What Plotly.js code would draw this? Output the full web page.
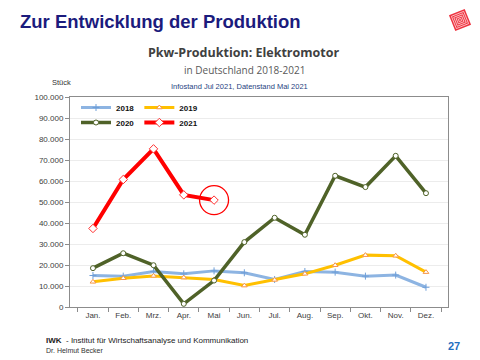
<!DOCTYPE html>
<html>
<head>
<meta charset="utf-8">
<script src="https://cdn.plot.ly/plotly-3.0.1.min.js"></script>
<style>html,body{margin:0;padding:0;background:#fff;}#chart{width:480px;height:360px;}</style>
</head>
<body>
<div id="chart"></div>
<script>
var months = ["Jan.","Feb.","Mrz.","Apr.","Mai","Jun.","Jul.","Aug.","Sep.","Okt.","Nov.","Dez."];
var y2018 = [15000,14700,16900,15800,17200,16300,13100,16900,16600,14700,15200,9400];
var y2019 = [12000,13700,14800,14000,13100,10200,12900,15800,19900,24700,24400,16600];
var y2020 = [18500,25600,19900,1500,12600,30900,42500,34400,62500,57100,72000,54200];
var y2021 = [37400,60700,75300,53400,50900];
var highlightIndex = 4;

var L = 70, T = 97, W = 378, H = 210;
function px(x){return (x - L)/W;}
function py(y){return (T + H - y)/H;}

var FONT = "Liberation Sans, Arial, sans-serif";

var traces = [
  {name:"2018", x:months, y:y2018, type:"scatter", mode:"lines+markers", legend:"legend",
   line:{color:"#8db4e2", width:3}, marker:{symbol:"cross-thin", size:5, line:{color:"#6f9fd8", width:1}}},
  {name:"2019", x:months, y:y2019, type:"scatter", mode:"lines+markers", legend:"legend",
   line:{color:"#ffc000", width:3}, marker:{symbol:"triangle-up", size:5, color:"#ffffff", line:{color:"#f79646", width:1}}},
  {name:"2020", x:months, y:y2020, type:"scatter", mode:"lines+markers", legend:"legend2",
   line:{color:"#4f6228", width:3.5}, marker:{symbol:"circle", size:5, color:"#ffffff", line:{color:"#4f6228", width:1}}},
  {name:"2021", x:months.slice(0, y2021.length), y:y2021, type:"scatter", mode:"lines+markers", legend:"legend2",
   line:{color:"#ff0000", width:4}, marker:{symbol:"diamond", size:6.5, color:"#ffffff", line:{color:"#ff3030", width:1}}},
  {name:"highlight", x:[months[highlightIndex]], y:[y2021[highlightIndex]], type:"scatter", mode:"markers",
   showlegend:false, hoverinfo:"skip", cliponaxis:false,
   marker:{symbol:"circle-open", size:29, color:"#ff0000", line:{color:"#ff0000", width:1.3}}}
];

// logo shapes (decoration)
function rotSquare(cx, cy, h, ang){
  var a = ang*Math.PI/180, pts = [[-h,-h],[h,-h],[h,h],[-h,h]];
  var s = pts.map(function(p, i){
    var X = cx + p[0]*Math.cos(a) - p[1]*Math.sin(a);
    var Y = cy + p[0]*Math.sin(a) + p[1]*Math.cos(a);
    return (i===0?"M ":"L ") + px(X).toFixed(5) + " " + py(Y).toFixed(5);
  });
  return s.join(" ") + " Z";
}
var shapes = [
  {type:"path", xref:"paper", yref:"paper", path:rotSquare(460,20,8.5,-22), fillcolor:"#ee3340", line:{width:0}}
];
[6.6,4.8,3,1.3].forEach(function(h){
  shapes.push({type:"path", xref:"paper", yref:"paper", path:rotSquare(460,20,h,-22), fillcolor:"rgba(0,0,0,0)", line:{color:"#ffe0e0", width:0.8}});
});

var annotations = [
  {text:"<b>Zur Entwicklung der Produktion</b>", x:px(18), y:py(22), xref:"paper", yref:"paper", xanchor:"left", yanchor:"middle", showarrow:false,
   font:{family:FONT, size:18.5, color:"#1b1b7d"}},
  {text:"<b>Pkw-Produktion: Elektromotor</b>", x:px(243), y:py(52), xref:"paper", yref:"paper", xanchor:"center", yanchor:"middle", showarrow:false,
   font:{family:"Open Sans, sans-serif", size:12.5, color:"#404040"}},
  {text:"in Deutschland 2018-2021", x:px(244), y:py(70), xref:"paper", yref:"paper", xanchor:"center", yanchor:"middle", showarrow:false,
   font:{family:"Open Sans, sans-serif", size:10, color:"#595959"}},
  {text:"Infostand Jul 2021, Datenstand Mai 2021", x:px(239), y:py(87), xref:"paper", yref:"paper", xanchor:"center", yanchor:"middle", showarrow:false,
   font:{family:FONT, size:7.5, color:"#1f3f7f"}},
  {text:"Stück", x:px(50), y:py(82), xref:"paper", yref:"paper", xanchor:"left", yanchor:"middle", showarrow:false,
   font:{family:FONT, size:7.5, color:"#333333"}},
  {text:"<b>IWK</b>  - Institut für Wirtschaftsanalyse und Kommunikation", x:px(44), y:py(340), xref:"paper", yref:"paper", xanchor:"left", yanchor:"middle", showarrow:false,
   font:{family:FONT, size:8, color:"#222222"}},
  {text:"Dr. Helmut Becker", x:px(44), y:py(350), xref:"paper", yref:"paper", xanchor:"left", yanchor:"middle", showarrow:false,
   font:{family:FONT, size:7, color:"#333333"}},
  {text:"<b>27</b>", x:px(454), y:py(346), xref:"paper", yref:"paper", xanchor:"center", yanchor:"middle", showarrow:false,
   font:{family:FONT, size:11, color:"#1f6fbf"}}
];

var layout = {
  width:480, height:360,
  margin:{l:L, r:480-L-W, t:T, b:360-T-H, pad:0},
  paper_bgcolor:"#ffffff", plot_bgcolor:"#ffffff",
  separators:",.",
  font:{family:FONT, size:8, color:"#404040"},
  showlegend:true,
  xaxis:{type:"category", showgrid:false, showline:true, linecolor:"#8c8c8c", linewidth:1, mirror:true,
         ticks:"outside", tickson:"boundaries", ticklen:4, tickcolor:"#8c8c8c",
         tickfont:{family:FONT, size:8, color:"#404040"}, fixedrange:true},
  yaxis:{range:[0,100000], dtick:10000, tickformat:",d", showgrid:true, gridcolor:"#ececec", gridwidth:1,
         showline:true, linecolor:"#8c8c8c", linewidth:1, mirror:true, ticks:"outside", ticklen:4, tickcolor:"#8c8c8c",
         zeroline:false, tickfont:{family:FONT, size:8, color:"#404040"}, fixedrange:true},
  legend:{orientation:"h", x:px(76), y:py(93), xanchor:"left", yanchor:"top", bgcolor:"rgba(255,255,255,0)",
          font:{family:FONT, size:8, color:"#111111", weight:"bold"}, itemwidth:30, tracegroupgap:0},
  legend2:{orientation:"h", x:px(76), y:py(108), xanchor:"left", yanchor:"top", bgcolor:"rgba(255,255,255,0)",
          font:{family:FONT, size:8, color:"#111111", weight:"bold"}, itemwidth:30, tracegroupgap:0},
  shapes:shapes,
  annotations:annotations
};

Plotly.newPlot("chart", traces, layout, {displayModeBar:false, staticPlot:true});
</script>
</body>
</html>
